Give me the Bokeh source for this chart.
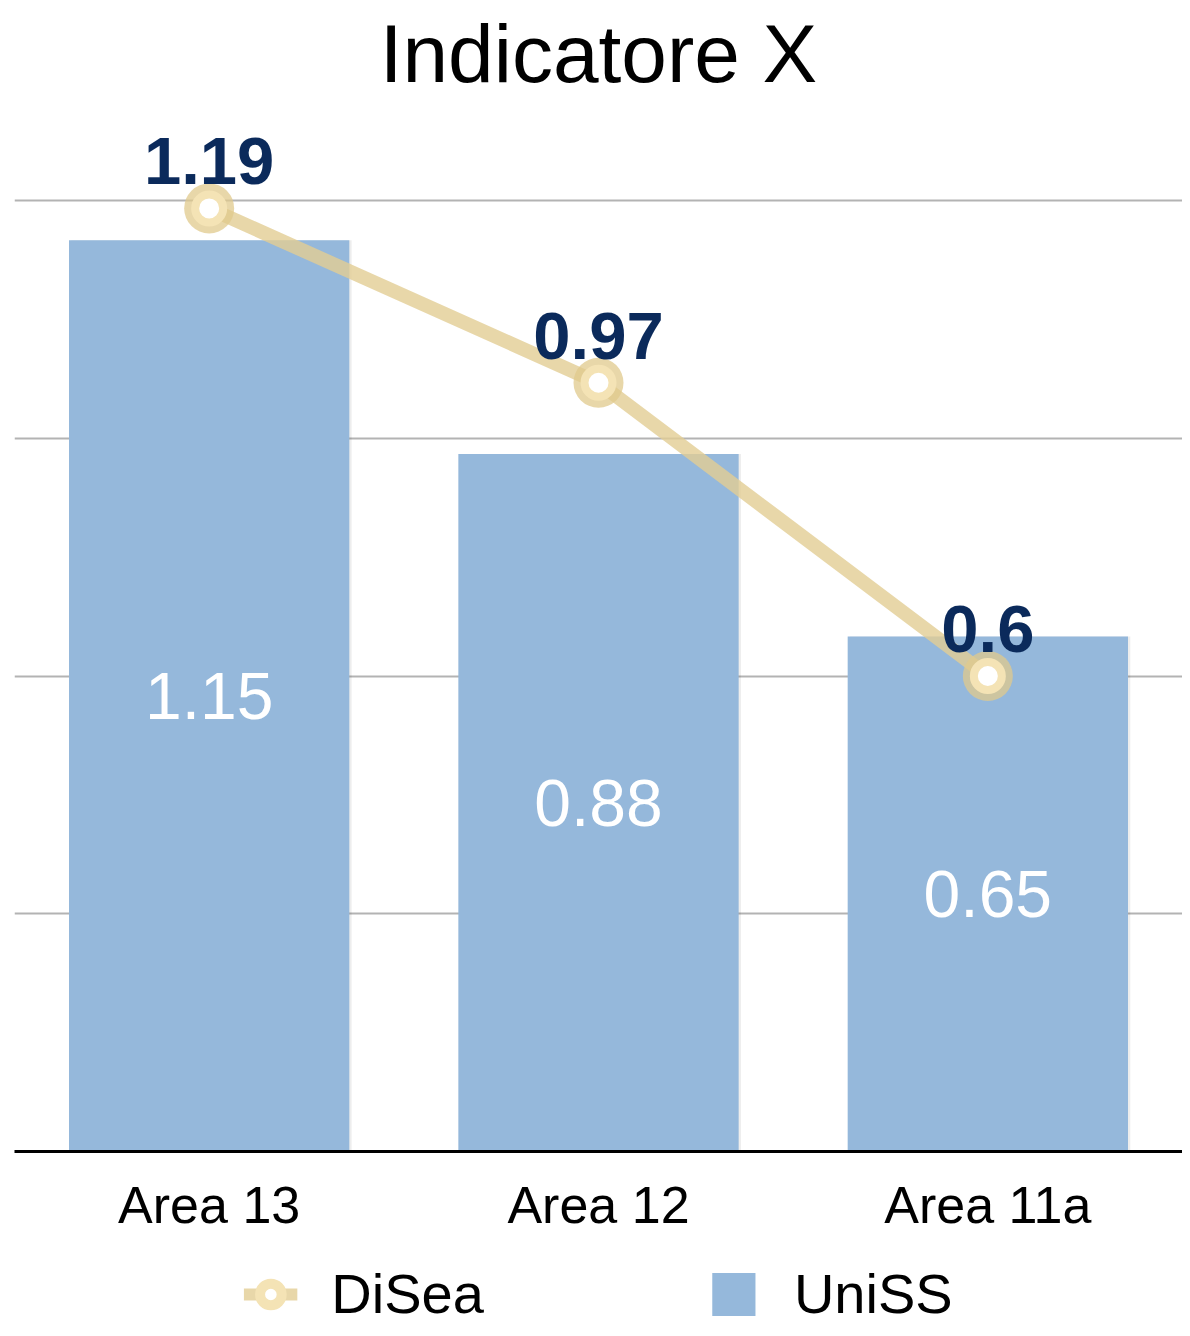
from bokeh.plotting import figure
from bokeh.layouts import column
from bokeh.models import Range1d, FixedTicker, Legend, LegendItem
from bokeh.transform import dodge
from bokeh.core.properties import value
from bokeh.embed import file_html
from bokeh.resources import INLINE

categories = ["Area 13", "Area 12", "Area 11a"]
uniss = [1.15, 0.88, 0.65]
disea = [1.19, 0.97, 0.6]
uniss_labels = ["1.15", "0.88", "0.65"]
disea_labels = ["1.19", "0.97", "0.6"]
grid_ticks = [0.3, 0.6, 0.9, 1.2]

FONT = "Liberation Sans"
BAR = "#95b8db"
LINE = "#e2cd93"
RING = "#f4e3b5"

p = figure(x_range=categories, y_range=Range1d(0, 1.3224),
           frame_width=1168, frame_height=1048,
           output_backend="svg", toolbar_location=None,
           min_border_left=14, min_border_right=0, min_border_top=0, min_border_bottom=0)
p.x_range.range_padding = 0

p.title.text = "Indicatore X"
p.title.align = "center"
p.title.text_font = FONT
p.title.text_font_size = "82px"
p.title.text_font_style = "normal"
p.title.text_color = "#000000"

# soft bar shadow
p.vbar(x=dodge("x", 0.006, range=p.x_range), top="top", width=0.72,
       source={"x": categories, "top": uniss},
       fill_color="black", fill_alpha=0.07, line_color=None)
bars = p.vbar(x=categories, top=uniss, width=0.72, fill_color=BAR, line_color=None)

p.text(x=categories, y=[v / 2 for v in uniss], text=uniss_labels,
       text_align="center", text_baseline="middle", text_font=value(FONT),
       text_font_size="66px", text_color="white")

line = p.line(x=categories, y=disea, line_color=LINE, line_alpha=0.8, line_width=14)
halo = p.scatter(x=categories, y=disea, size=50, fill_color="#e0c98c", fill_alpha=0.75, line_color=None)
ring = p.scatter(x=categories, y=disea, size=28, fill_color="white",
                 line_color=RING, line_width=8)

p.text(x=categories, y=disea, text=disea_labels, y_offset=-47,
       text_align="center", text_baseline="alphabetic", text_font=value(FONT),
       text_font_style="bold", text_font_size="67px", text_color="#0b2a5b")

p.xgrid.grid_line_color = None
p.ygrid.ticker = FixedTicker(ticks=grid_ticks)
p.ygrid.grid_line_color = "#b3b3b3"
p.ygrid.grid_line_width = 2
p.yaxis.visible = False
p.outline_line_color = None

p.xaxis.axis_line_color = "black"
p.xaxis.axis_line_width = 3
p.xaxis.major_tick_line_color = None
p.xaxis.minor_tick_line_color = None
p.xaxis.major_label_text_font = FONT
p.xaxis.major_label_text_font_size = "52px"
p.xaxis.major_label_text_color = "black"
p.xaxis.major_label_standoff = 18

# legend strip below the chart (proxy glyphs sit outside the visible range)
lf = figure(frame_width=1168, height=90, x_range=Range1d(0, 1), y_range=Range1d(0, 1),
            output_backend="svg", toolbar_location=None,
            min_border_left=14, min_border_right=0, min_border_top=0, min_border_bottom=0)
lf.axis.visible = False
lf.grid.grid_line_color = None
lf.outline_line_color = None
l_line = lf.line(x=[-10, -9], y=[-10, -10], line_color=LINE, line_alpha=0.8, line_width=12)
l_ring = lf.scatter(x=[-10], y=[-10], size=28, fill_color="white", line_color=RING, line_width=10)
l_bar = lf.vbar(x=[-10], top=[-9], width=0.5, fill_color=BAR, line_color=None)

legend = Legend(items=[LegendItem(label="DiSea", renderers=[l_line, l_ring]),
                       LegendItem(label="UniSS", renderers=[l_bar])],
                orientation="horizontal", location="bottom_center",
                label_text_font=FONT, label_text_font_size="56px", label_text_color="black",
                glyph_width=54, glyph_height=54, spacing=222, label_standoff=34,
                border_line_color=None, background_fill_alpha=0, padding=0, margin=0)
lf.add_layout(legend)

open("out.html", "w").write(file_html(column(p, lf), INLINE))
